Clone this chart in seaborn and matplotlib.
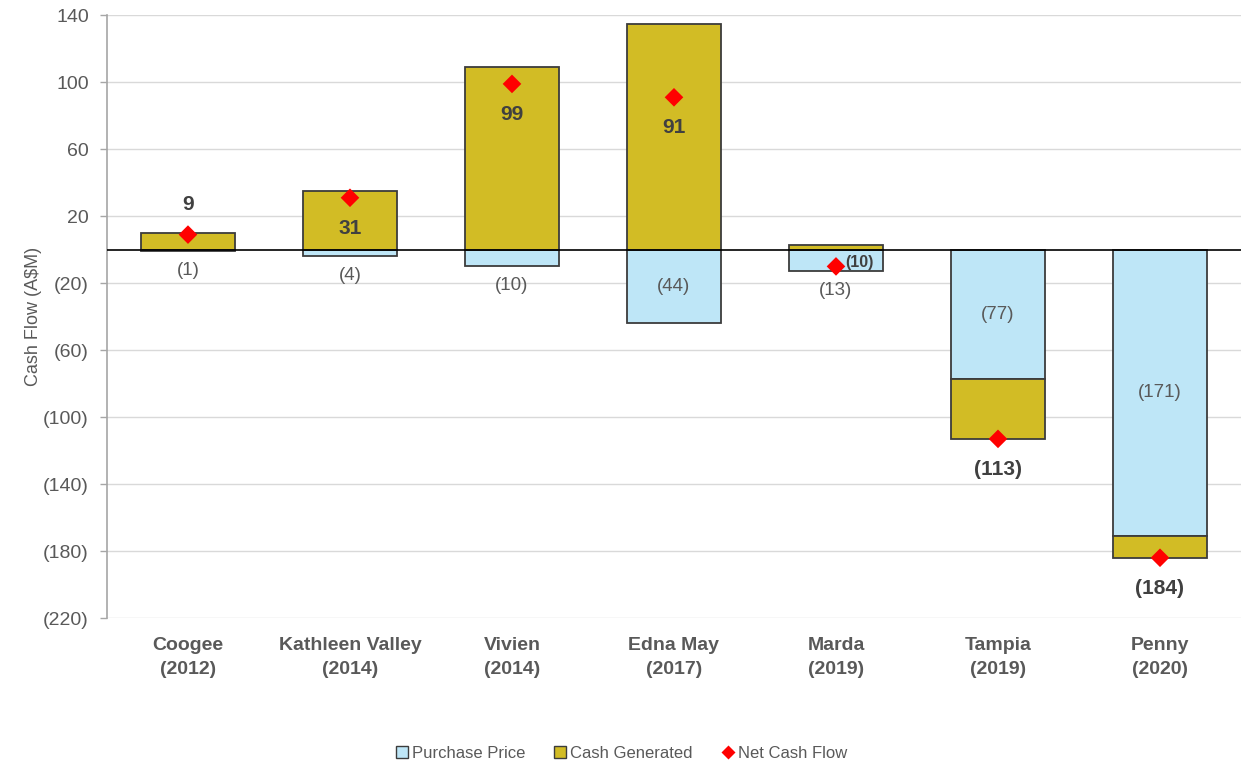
import matplotlib
matplotlib.use("Agg")
import matplotlib.pyplot as plt
from matplotlib.lines import Line2D
import seaborn as sns
import pandas as pd
import numpy as np

# ---- data ----
projects = ["Coogee", "Kathleen Valley", "Vivien", "Edna May", "Marda", "Tampia", "Penny"]
years = ["2012", "2014", "2014", "2017", "2019", "2019", "2020"]
purchase_price = [-1, -4, -10, -44, -13, -77, -171]
cash_generated = [10, 35, 109, 135, 3, -36, -13]
net_cash_flow = [9, 31, 99, 91, -10, -113, -184]
y_ticks = [140, 100, 60, 20, -20, -60, -100, -140, -180, -220]

# label placement style for the net cash flow label (relative to the diamond)
net_label_place = ["above", "below", "below", "below", "right", "below", "below"]

sns.set_theme(style="white")
FONT = ["Liberation Sans Narrow", "Liberation Sans", "DejaVu Sans"]
plt.rcParams["font.family"] = FONT

BLUE = "#BEE6F7"
GOLD = "#D2BC25"
EDGE = "#3C3C3C"
TXT = "#595959"
DARK = "#404040"

labels = [f"{p}\n({y})" for p, y in zip(projects, years)]
df = pd.DataFrame({"label": labels, "purchase": purchase_price,
                   "cash": cash_generated, "net": net_cash_flow})
df["cash_bottom"] = [0 if c > 0 else p for c, p in zip(cash_generated, purchase_price)]

fig = plt.figure(figsize=(12.41, 7.63), dpi=100)
ax = fig.add_axes([0.0862, 0.19, 0.9138, 0.79])

# gridlines
for t in y_ticks:
    ax.axhline(t, color="#D9D9D9", lw=1.0, zorder=0)

sns.barplot(data=df, x="label", y="purchase", color=BLUE, saturation=1,
            width=0.575, edgecolor=EDGE, linewidth=1.3, errorbar=None, ax=ax, zorder=2)
sns.barplot(data=df, x="label", y="cash", bottom=df["cash_bottom"].values, color=GOLD,
            saturation=1, width=0.575, edgecolor=EDGE, linewidth=1.3, errorbar=None,
            ax=ax, zorder=2)
ax.axhline(0, color="black", lw=1.2, zorder=3)
sns.scatterplot(data=df, x="label", y="net", marker="D", color="#FF0000", s=90,
                edgecolor="none", ax=ax, zorder=4, legend=False)

def fmt(v):
    return f"({abs(v)})" if v < 0 else f"{v}"

# purchase price labels
for i, p in enumerate(purchase_price):
    if abs(p) < 20:
        ax.annotate(fmt(p), (i, p), xytext=(0, -14), textcoords="offset points",
                    ha="center", va="center", fontsize=13.5, color=TXT, zorder=5)
    else:
        ax.text(i, p / 2, fmt(p), ha="center", va="center", fontsize=13.5,
                color=TXT, zorder=5)

# net cash flow labels
for i, (n, place) in enumerate(zip(net_cash_flow, net_label_place)):
    if place == "above":
        off, ha, fs = (0, 22), "center", 15
    elif place == "below":
        off, ha, fs = (0, -22), "center", 15
    else:
        off, ha, fs = (7, 3), "left", 11.5
    ax.annotate(fmt(n), (i, n), xytext=off, textcoords="offset points",
                ha=ha, va="center", fontsize=fs, fontweight="bold", color=DARK, zorder=5)

ax.set_ylim(-220, 140)
ax.set_xlim(-0.5, 6.5)
ax.set_yticks(y_ticks)
ax.set_yticklabels([fmt(t) for t in y_ticks], fontsize=14, color=TXT)
ax.set_xlabel("")
ax.set_ylabel("Cash Flow (A$M)", fontsize=13, color=TXT, labelpad=1)
ax.tick_params(axis="x", length=0, pad=14, labelsize=14, labelcolor=TXT)
for lab in ax.get_xticklabels():
    lab.set_fontweight("bold")
    lab.set_linespacing(1.5)
ax.tick_params(axis="y", length=5, width=1, color="#A6A6A6", pad=8, left=True)
for s in ["top", "right", "bottom"]:
    ax.spines[s].set_visible(False)
ax.spines["left"].set_color("#A6A6A6")
ax.spines["left"].set_linewidth(1.2)

handles = [
    Line2D([], [], marker="s", ls="none", markersize=9, markerfacecolor=BLUE,
           markeredgecolor=EDGE, markeredgewidth=1),
    Line2D([], [], marker="s", ls="none", markersize=9, markerfacecolor=GOLD,
           markeredgecolor=EDGE, markeredgewidth=1),
    Line2D([], [], marker="D", ls="none", markersize=7, markerfacecolor="#FF0000",
           markeredgecolor="none"),
]
fig.legend(handles, ["Purchase Price", "Cash Generated", "Net Cash Flow"],
           loc="center", bbox_to_anchor=(0.5, 0.013), ncol=3, frameon=False,
           fontsize=12, labelcolor=TXT, handletextpad=0.1, columnspacing=1.6,
           handlelength=1.0)

fig.savefig("out.png", dpi=100)
